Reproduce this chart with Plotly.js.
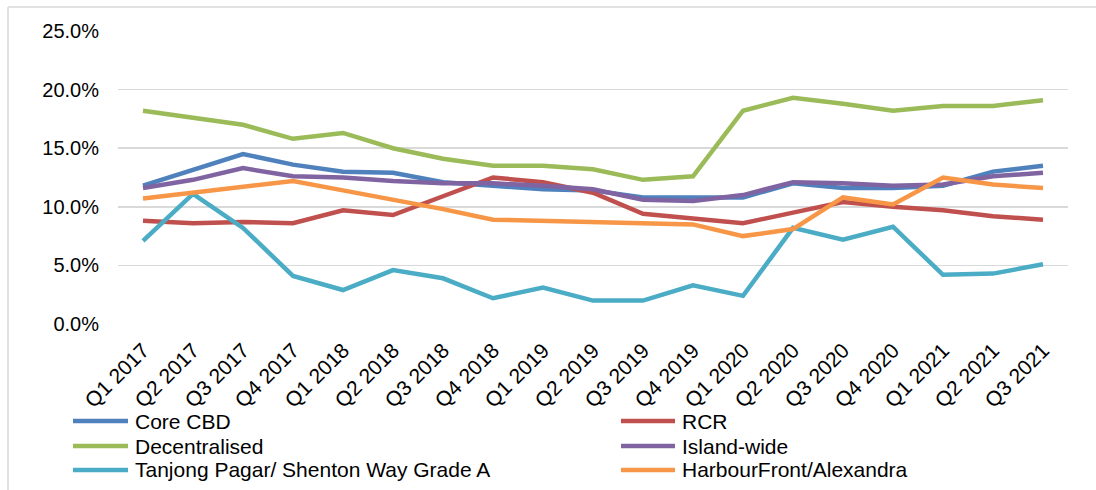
<!DOCTYPE html>
<html>
<head>
<meta charset="utf-8">
<script src="https://cdn.plot.ly/plotly-3.0.1.min.js"></script>
<style>
html,body{margin:0;padding:0;background:#fff;}
#chart{width:1096px;height:490px;}
</style>
</head>
<body>
<div id="chart"></div>
<script>
const quarters = ["Q1 2017","Q2 2017","Q3 2017","Q4 2017","Q1 2018","Q2 2018","Q3 2018","Q4 2018","Q1 2019","Q2 2019","Q3 2019","Q4 2019","Q1 2020","Q2 2020","Q3 2020","Q4 2020","Q1 2021","Q2 2021","Q3 2021"];

const coreCBD      = [11.8,13.2,14.5,13.6,13.0,12.9,12.1,11.8,11.5,11.4,10.8,10.8,10.8,12.0,11.6,11.6,11.8,13.0,13.5];
const rcr          = [8.8,8.6,8.7,8.6,9.7,9.3,10.9,12.5,12.1,11.2,9.4,9.0,8.6,9.5,10.4,10.0,9.7,9.2,8.9];
const decentral    = [18.2,17.6,17.0,15.8,16.3,15.0,14.1,13.5,13.5,13.2,12.3,12.6,18.2,19.3,18.8,18.2,18.6,18.6,19.1];
const islandWide   = [11.6,12.3,13.3,12.6,12.5,12.2,12.0,12.0,11.8,11.5,10.6,10.5,11.0,12.1,12.0,11.8,11.9,12.6,12.9];
const tanjongPagar = [7.1,11.1,8.2,4.1,2.9,4.6,3.9,2.2,3.1,2.0,2.0,3.3,2.4,8.2,7.2,8.3,4.2,4.3,5.1];
const harbourFront = [10.7,11.2,11.7,12.2,11.4,10.6,9.8,8.9,8.8,8.7,8.6,8.5,7.5,8.1,10.8,10.2,12.5,11.9,11.6];

const seriesNames  = ["Core CBD","RCR","Decentralised","Island-wide","Tanjong Pagar/ Shenton Way Grade A","HarbourFront/Alexandra"];
const seriesValues = [coreCBD, rcr, decentral, islandWide, tanjongPagar, harbourFront];
const seriesColors = ["#4F81BD","#C0504D","#9BBB59","#8064A2","#4BACC6","#F79646"];

const FONT = "Liberation Sans, Arial, sans-serif";

// pixel helpers for paper coords (plot area 118..1068 x, 31..324 y)
const L = 118, R = 1068, T = 31, B = 324;
const px = v => (v - L) / (R - L);
const py = v => (B - v) / (B - T);

const traces = seriesNames.map((n, i) => ({
  type: "scatter",
  mode: "lines",
  name: n,
  x: quarters,
  y: seriesValues[i],
  line: {color: seriesColors[i], width: 4.5},
  showlegend: false,
  hovertemplate: "%{x}: %{y:.1f}%<extra>" + n + "</extra>"
}));

const shapes = [
  {type:"line", xref:"paper", yref:"paper", x0:px(8), x1:px(1096), y0:py(7), y1:py(7), line:{color:"#d9d9d9", width:1.5}},
  {type:"line", xref:"paper", yref:"paper", x0:px(8), x1:px(8), y0:py(7), y1:py(490), line:{color:"#d9d9d9", width:1.5}}
];
const annotations = [];
const colLineX = [[73,128],[621,675]];
const colTextX = [133, 680];
const rowY = [421, 446, 470];
seriesNames.forEach((n, i) => {
  const c = i % 2, r = Math.floor(i / 2);
  shapes.push({type:"line", xref:"paper", yref:"paper",
    x0:px(colLineX[c][0]), x1:px(colLineX[c][1]), y0:py(rowY[r]), y1:py(rowY[r]),
    line:{color:seriesColors[i], width:4.5}});
  annotations.push({xref:"paper", yref:"paper", x:px(colTextX[c]), y:py(rowY[r]),
    xanchor:"left", yanchor:"middle", showarrow:false, text:n,
    font:{family:FONT, size:21, color:"#000"}});
});

const layout = {
  width: 1096, height: 490,
  margin: {l: L, r: 1096 - R, t: T, b: 490 - B, pad: 0},
  paper_bgcolor: "#fff", plot_bgcolor: "#fff",
  font: {family: FONT, size: 20, color: "#000"},
  showlegend: false,
  xaxis: {
    type: "category",
    range: [-0.5, 18.5],
    tickangle: -45,
    showgrid: false, zeroline: false, showline: false,
    ticks: "", ticklabelstandoff: 9,
    tickfont: {family: FONT, size: 21, color: "#000"},
    fixedrange: true
  },
  yaxis: {
    range: [0, 25],
    dtick: 5, tick0: 0,
    tickformat: ".1f", ticksuffix: "%",
    showgrid: true, gridcolor: "#d9d9d9", gridwidth: 1.5,
    zeroline: false, showline: false,
    ticks: "", ticklabelstandoff: 18,
    tickfont: {family: FONT, size: 20, color: "#000"},
    fixedrange: true
  },
  shapes: shapes,
  annotations: annotations
};

Plotly.newPlot("chart", traces, layout, {displayModeBar: false, staticPlot: true});
</script>
</body>
</html>
